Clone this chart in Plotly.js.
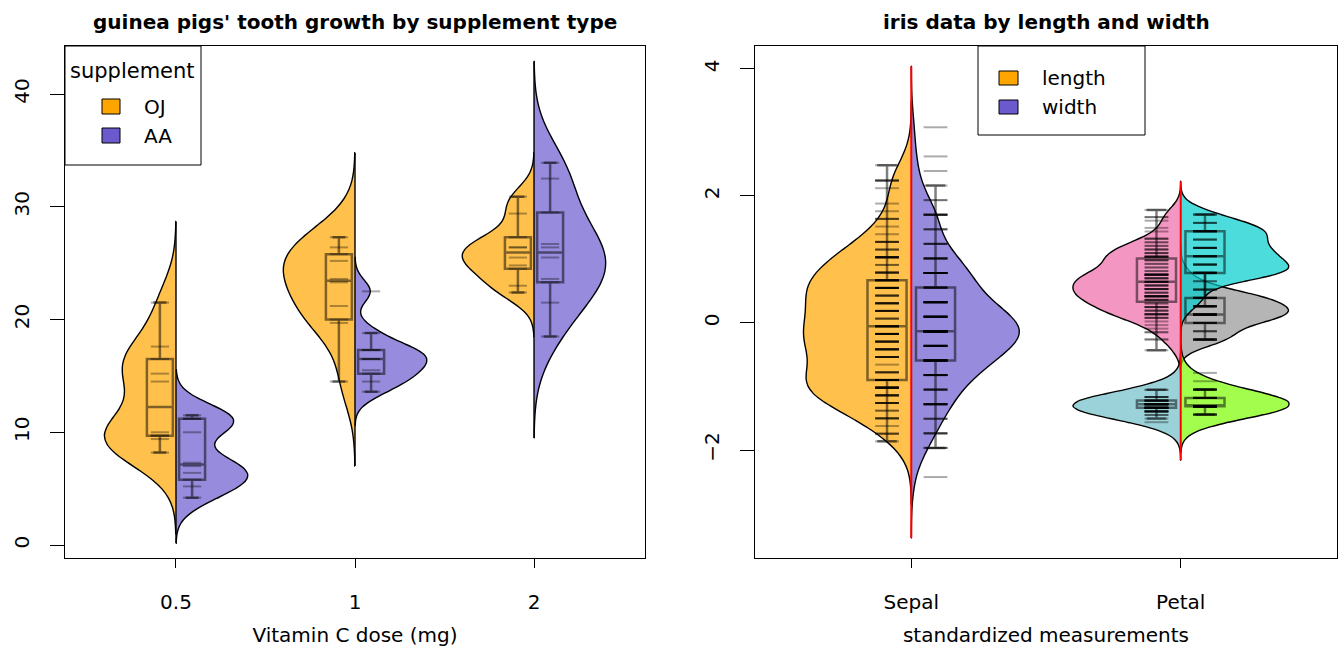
<!DOCTYPE html>
<html><head><meta charset="utf-8">
<script src="https://cdn.plot.ly/plotly-3.0.1.min.js"></script>
<style>html,body{margin:0;padding:0;background:#fff}#chart{width:1340px;height:650px}</style>
</head><body><div id="chart"></div>
<script>
// ---------- ToothGrowth: tooth length by supplement and dose ----------
const doseLabels = ['0.5', '1', '2'];
const supplementNames = ['OJ', 'AA'];
const ojLen05 = [15.2, 21.5, 17.6, 9.7, 14.5, 10, 8.2, 9.4, 16.5, 9.7];
const ojLen1  = [19.7, 23.3, 23.6, 26.4, 20, 25.2, 25.8, 21.2, 14.5, 27.3];
const ojLen2  = [25.5, 26.4, 22.4, 24.5, 24.8, 30.9, 26.4, 27.3, 29.4, 23];
const aaLen05 = [4.2, 11.5, 7.3, 5.8, 6.4, 10, 11.2, 11.2, 5.2, 7];
const aaLen1  = [16.5, 16.5, 15.2, 17.3, 22.5, 17.3, 13.6, 14.5, 18.8, 15.5];
const aaLen2  = [23.6, 18.5, 33.9, 25.5, 26.4, 32.5, 26.7, 21.5, 23.3, 29.5];

// ---------- iris measurements (cm) ----------
const measureLabels = ['Sepal', 'Petal'];
const dimensionNames = ['length', 'width'];
const setosaSepalLength = [5.1,4.9,4.7,4.6,5.0,5.4,4.6,5.0,4.4,4.9,5.4,4.8,4.8,4.3,5.8,5.7,5.4,5.1,5.7,5.1,5.4,5.1,4.6,5.1,4.8,5.0,5.0,5.2,5.2,4.7,4.8,5.4,5.2,5.5,4.9,5.0,5.5,4.9,4.4,5.1,5.0,4.5,4.4,5.0,5.1,4.8,5.1,4.6,5.3,5.0];
const setosaSepalWidth  = [3.5,3.0,3.2,3.1,3.6,3.9,3.4,3.4,2.9,3.1,3.7,3.4,3.0,3.0,4.0,4.4,3.9,3.5,3.8,3.8,3.4,3.7,3.6,3.3,3.4,3.0,3.4,3.5,3.4,3.2,3.1,3.4,4.1,4.2,3.1,3.2,3.5,3.6,3.0,3.4,3.5,2.3,3.2,3.5,3.8,3.0,3.8,3.2,3.7,3.3];
const setosaPetalLength = [1.4,1.4,1.3,1.5,1.4,1.7,1.4,1.5,1.4,1.5,1.5,1.6,1.4,1.1,1.2,1.5,1.3,1.4,1.7,1.5,1.7,1.5,1.0,1.7,1.9,1.6,1.6,1.5,1.4,1.6,1.6,1.5,1.5,1.4,1.5,1.2,1.3,1.4,1.3,1.5,1.3,1.3,1.3,1.6,1.9,1.4,1.6,1.4,1.5,1.4];
const setosaPetalWidth  = [0.2,0.2,0.2,0.2,0.2,0.4,0.3,0.2,0.2,0.1,0.2,0.2,0.1,0.1,0.2,0.4,0.4,0.3,0.3,0.3,0.2,0.4,0.2,0.5,0.2,0.2,0.4,0.2,0.2,0.2,0.2,0.4,0.1,0.2,0.2,0.2,0.2,0.1,0.2,0.2,0.3,0.3,0.2,0.6,0.4,0.3,0.2,0.2,0.2,0.2];
const versicolorSepalLength = [7.0,6.4,6.9,5.5,6.5,5.7,6.3,4.9,6.6,5.2,5.0,5.9,6.0,6.1,5.6,6.7,5.6,5.8,6.2,5.6,5.9,6.1,6.3,6.1,6.4,6.6,6.8,6.7,6.0,5.7,5.5,5.5,5.8,6.0,5.4,6.0,6.7,6.3,5.6,5.5,5.5,6.1,5.8,5.0,5.6,5.7,5.7,6.2,5.1,5.7];
const versicolorSepalWidth  = [3.2,3.2,3.1,2.3,2.8,2.8,3.3,2.4,2.9,2.7,2.0,3.0,2.2,2.9,2.9,3.1,3.0,2.7,2.2,2.5,3.2,2.8,2.5,2.8,2.9,3.0,2.8,3.0,2.9,2.6,2.4,2.4,2.7,2.7,3.0,3.4,3.1,2.3,3.0,2.5,2.6,3.0,2.6,2.3,2.7,3.0,2.9,2.9,2.5,2.8];
const versicolorPetalLength = [4.7,4.5,4.9,4.0,4.6,4.5,4.7,3.3,4.6,3.9,3.5,4.2,4.0,4.7,3.6,4.4,4.5,4.1,4.5,3.9,4.8,4.0,4.9,4.7,4.3,4.4,4.8,5.0,4.5,3.5,3.8,3.7,3.9,5.1,4.5,4.5,4.7,4.4,4.1,4.0,4.4,4.6,4.0,3.3,4.2,4.2,4.2,4.3,3.0,4.1];
const versicolorPetalWidth  = [1.4,1.5,1.5,1.3,1.5,1.3,1.6,1.0,1.3,1.4,1.0,1.5,1.0,1.4,1.3,1.4,1.5,1.0,1.5,1.1,1.8,1.3,1.5,1.2,1.3,1.4,1.4,1.7,1.5,1.0,1.1,1.0,1.2,1.6,1.5,1.6,1.5,1.3,1.3,1.3,1.2,1.4,1.2,1.0,1.3,1.2,1.3,1.3,1.1,1.3];
const virginicaSepalLength = [6.3,5.8,7.1,6.3,6.5,7.6,4.9,7.3,6.7,7.2,6.5,6.4,6.8,5.7,5.8,6.4,6.5,7.7,7.7,6.0,6.9,5.6,7.7,6.3,6.7,7.2,6.2,6.1,6.4,7.2,7.4,7.9,6.4,6.3,6.1,7.7,6.3,6.4,6.0,6.9,6.7,6.9,5.8,6.8,6.7,6.7,6.3,6.5,6.2,5.9];
const virginicaSepalWidth  = [3.3,2.7,3.0,2.9,3.0,3.0,2.5,2.9,2.5,3.6,3.2,2.7,3.0,2.5,2.8,3.2,3.0,3.8,2.6,2.2,3.2,2.8,2.8,2.7,3.3,3.2,2.8,3.0,2.8,3.0,2.8,3.8,2.8,2.8,2.6,3.0,3.4,3.1,3.0,3.1,3.1,3.1,2.7,3.2,3.3,3.0,2.5,3.0,3.4,3.0];
const virginicaPetalLength = [6.0,5.1,5.9,5.6,5.8,6.6,4.5,6.3,5.8,6.1,5.1,5.3,5.5,5.0,5.1,5.3,5.5,6.7,6.9,5.0,5.7,4.9,6.7,4.9,5.7,6.0,4.8,4.9,5.6,5.8,6.1,6.4,5.6,5.1,5.6,6.1,5.6,5.5,4.8,5.4,5.6,5.1,5.1,5.9,5.7,5.2,5.0,5.2,5.4,5.1];
const virginicaPetalWidth  = [2.5,1.9,2.1,1.8,2.2,2.1,1.7,1.8,1.8,2.5,2.0,1.9,2.1,2.0,2.4,2.3,1.8,2.2,2.3,1.5,2.3,2.0,2.0,1.8,2.1,1.8,1.8,1.8,2.1,1.6,1.9,2.0,2.2,1.5,1.4,2.3,2.4,1.8,1.8,2.1,2.4,2.3,1.9,2.3,2.5,2.3,1.9,2.0,2.3,1.8];

// ---------- helpers ----------
const mean = a => a.reduce((s, v) => s + v, 0) / a.length;
const sdev = a => { const m = mean(a); return Math.sqrt(a.reduce((s, v) => s + (v - m) * (v - m), 0) / (a.length - 1)); };
function standardizer(all) { const m = mean(all), s = sdev(all); return vals => vals.map(v => (v - m) / s); }

const allSL = [...setosaSepalLength, ...versicolorSepalLength, ...virginicaSepalLength];
const allSW = [...setosaSepalWidth, ...versicolorSepalWidth, ...virginicaSepalWidth];
const allPL = [...setosaPetalLength, ...versicolorPetalLength, ...virginicaPetalLength];
const allPW = [...setosaPetalWidth, ...versicolorPetalWidth, ...virginicaPetalWidth];
const zSL = standardizer(allSL), zSW = standardizer(allSW), zPL = standardizer(allPL), zPW = standardizer(allPW);

const FONT = 'DejaVu Sans';
const W = 1340, H = 650;
const px = x => x / W, py = y => 1 - y / H;
const VW = 0.8, BOXW = 0.145, OFF = 0.09;

const ORANGE = 'rgba(255,165,0,0.7)', SLATE = 'rgba(106,90,205,0.7)';

function violin(vals, pos, side, color, bw, xa, ya) {
  const lo = Math.min(...vals) - 3 * bw, hi = Math.max(...vals) + 3 * bw;
  return {type: 'violin', x0: pos, y: vals, xaxis: xa, yaxis: ya, side: side, width: VW,
    scalemode: 'width', bandwidth: bw, spanmode: 'manual', span: [lo, hi], fillcolor: color,
    line: {color: 'black', width: 1.4}, points: false, box: {visible: false},
    meanline: {visible: false}, hoverinfo: 'skip', showlegend: false, orientation: 'v', _lo: lo, _hi: hi};
}
function box(vals, pos, xa, ya) {
  return {type: 'box', x0: pos, y: vals, xaxis: xa, yaxis: ya, width: BOXW, boxpoints: 'outliers',
    quartilemethod: 'inclusive', fillcolor: 'rgba(0,0,0,0)', line: {color: 'rgba(0,0,0,0.5)', width: 2.5},
    whiskerwidth: 0.5, marker: {color: 'rgba(0,0,0,0)', size: 1, line: {width: 0}},
    hoverinfo: 'skip', showlegend: false};
}
function rug(vals, pos, size, xa, ya) {
  return {type: 'scatter', mode: 'markers', x: vals.map(() => pos), y: vals, xaxis: xa, yaxis: ya,
    marker: {symbol: 'line-ew', size: size, color: 'rgba(0,0,0,0.33)', line: {color: 'rgba(0,0,0,0.33)', width: 2}},
    hoverinfo: 'skip', showlegend: false};
}
function centreLines(violins, positions, color, xa, ya) {
  return positions.map(pos => {
    const vs = violins.filter(t => t.x0 === pos);
    const lo = Math.min(...vs.map(t => t._lo)), hi = Math.max(...vs.map(t => t._hi));
    return {type: 'scatter', mode: 'lines', x: [pos, pos], y: [lo, hi], xaxis: xa, yaxis: ya,
      line: {color: color, width: color === 'red' ? 2 : 1.4}, hoverinfo: 'skip', showlegend: false};
  });
}

// ---------- left panel groups ----------
const leftGroups = [
  {vals: ojLen05, pos: 1, side: 'negative', color: ORANGE, bw: 2.4},
  {vals: aaLen05, pos: 1, side: 'positive', color: SLATE, bw: 1.35},
  {vals: ojLen1, pos: 2, side: 'negative', color: ORANGE, bw: 2.5},
  {vals: aaLen1, pos: 2, side: 'positive', color: SLATE, bw: 1.0},
  {vals: ojLen2, pos: 3, side: 'negative', color: ORANGE, bw: 1.3},
  {vals: aaLen2, pos: 3, side: 'positive', color: SLATE, bw: 3.0}
];
// ---------- right panel groups ----------
const rightGroups = [
  {vals: zSL(allSL), pos: 1, side: 'negative', color: ORANGE, bw: 0.33},
  {vals: zSW(allSW), pos: 1, side: 'positive', color: SLATE, bw: 0.32},
  {vals: zPL([...versicolorPetalLength, ...virginicaPetalLength]), pos: 2, side: 'negative', color: 'rgba(238,106,167,0.7)', bw: 0.15},
  {vals: zPL(setosaPetalLength), pos: 2, side: 'negative', color: 'rgba(112,190,200,0.7)', bw: 0.2},
  {vals: zPW(versicolorPetalWidth), pos: 2, side: 'positive', color: 'rgba(150,150,150,0.7)', bw: 0.14},
  {vals: zPW(virginicaPetalWidth), pos: 2, side: 'positive', color: 'rgba(0,205,205,0.7)', bw: 0.15},
  {vals: zPW(setosaPetalWidth), pos: 2, side: 'positive', color: 'rgba(124,252,0,0.7)', bw: 0.2}
];

const traces = [];
const leftViolins = leftGroups.map(g => violin(g.vals, g.pos, g.side, g.color, g.bw, 'x', 'y'));
const rightViolins = rightGroups.map(g => violin(g.vals, g.pos, g.side, g.color, g.bw, 'x2', 'y2'));
leftViolins.forEach(t => traces.push(t));
rightViolins.forEach(t => traces.push(t));
centreLines(leftViolins, [1, 2, 3], 'black', 'x', 'y').forEach(t => traces.push(t));
centreLines(rightViolins, [1, 2], 'red', 'x2', 'y2').forEach(t => traces.push(t));
traces.forEach(t => { delete t._lo; delete t._hi; });
leftGroups.forEach(g => traces.push(box(g.vals, g.pos + (g.side === 'negative' ? -OFF : OFF), 'x', 'y')));
rightGroups.forEach(g => traces.push(box(g.vals, g.pos + (g.side === 'negative' ? -OFF : OFF), 'x2', 'y2')));
leftGroups.forEach(g => traces.push(rug(g.vals, g.pos + (g.side === 'negative' ? -OFF : OFF), 13, 'x', 'y')));
rightGroups.forEach(g => traces.push(rug(g.vals, g.pos + (g.side === 'negative' ? -OFF : OFF), 17, 'x2', 'y2')));

// ---------- layout ----------
const tickFont = {family: FONT, size: 20, color: 'black'};
const axBase = {showline: true, mirror: true, linecolor: 'black', linewidth: 1, ticks: 'outside',
  tickcolor: 'black', tickwidth: 1, showgrid: false, zeroline: false, fixedrange: true, tickfont: tickFont};
const yDomain = [py(558), py(46)];

const shapes = [], annotations = [];
function legendBox(x0, y0, x1, y1) {
  shapes.push({type: 'rect', xref: 'paper', yref: 'paper', x0: px(x0), x1: px(x1), y0: py(y1), y1: py(y0),
    line: {color: 'black', width: 1}, fillcolor: 'white', layer: 'above'});
}
function legendItem(x, y, w, h, color, label, tx) {
  shapes.push({type: 'rect', xref: 'paper', yref: 'paper', x0: px(x), x1: px(x + w), y0: py(y + h), y1: py(y),
    line: {color: 'black', width: 1}, fillcolor: color, layer: 'above'});
  annotations.push({xref: 'paper', yref: 'paper', x: px(tx), y: py(y + h / 2), xanchor: 'left', yanchor: 'middle',
    text: label, showarrow: false, font: {family: FONT, size: 20, color: 'black'}});
}
// left legend
legendBox(65, 46, 201, 165);
annotations.push({xref: 'paper', yref: 'paper', x: px(68), y: py(71), xanchor: 'left', yanchor: 'middle',
  text: 'supplement', showarrow: false, font: {family: FONT, size: 21, color: 'black'}});
legendItem(102, 99, 18, 15, '#FFA500', supplementNames[0], 142);
legendItem(102, 128, 18, 15, '#6A5ACD', supplementNames[1], 142);
// right legend
legendBox(978, 46, 1145, 135);
legendItem(999, 71, 19, 14, '#FFA500', dimensionNames[0], 1040);
legendItem(999, 100, 19, 14, '#6A5ACD', dimensionNames[1], 1040);
// panel titles
annotations.push({xref: 'paper', yref: 'paper', x: px(355), y: py(22), xanchor: 'center', yanchor: 'middle',
  text: "guinea pigs' tooth growth by supplement type", showarrow: false,
  font: {family: FONT, size: 20, color: 'black', weight: 'bold'}});
annotations.push({xref: 'paper', yref: 'paper', x: px(1046), y: py(22), xanchor: 'center', yanchor: 'middle',
  text: 'iris data by length and width', showarrow: false,
  font: {family: FONT, size: 20, color: 'black', weight: 'bold'}});

const layout = {
  width: W, height: H, margin: {l: 0, r: 0, t: 0, b: 0}, paper_bgcolor: 'white', plot_bgcolor: 'white',
  showlegend: false, violinmode: 'overlay', boxmode: 'overlay', hovermode: false,
  xaxis: Object.assign({}, axBase, {domain: [px(65), px(645)], range: [0.38, 3.62], anchor: 'y',
    tickvals: [1, 2, 3], ticktext: doseLabels, ticklen: 9, ticklabelstandoff: 17,
    title: {text: 'Vitamin C dose (mg)', font: {family: FONT, size: 20, color: 'black'}, standoff: 14}}),
  yaxis: Object.assign({}, axBase, {domain: yDomain, range: [-1.15, 44.26], anchor: 'x',
    tickvals: [0, 10, 20, 30, 40], ticklen: 14, tickangle: -90, ticklabelstandoff: 13,
    tickfont: {family: FONT, size: 20, color: 'black'}}),
  xaxis2: Object.assign({}, axBase, {domain: [px(755), px(1337)], range: [0.42, 2.58], anchor: 'y2',
    tickvals: [1, 2], ticktext: measureLabels, ticklen: 9, ticklabelstandoff: 17,
    title: {text: 'standardized measurements', font: {family: FONT, size: 20, color: 'black'}, standoff: 14}}),
  yaxis2: Object.assign({}, axBase, {domain: yDomain, range: [-3.70, 4.36], anchor: 'x2',
    tickvals: [-2, 0, 2, 4], ticklen: 14, tickangle: -90, ticklabelstandoff: 13,
    tickfont: {family: FONT, size: 20, color: 'black'}}),
  shapes: shapes, annotations: annotations
};

Plotly.newPlot('chart', traces, layout, {staticPlot: true, displayModeBar: false});
</script>
</body></html>
